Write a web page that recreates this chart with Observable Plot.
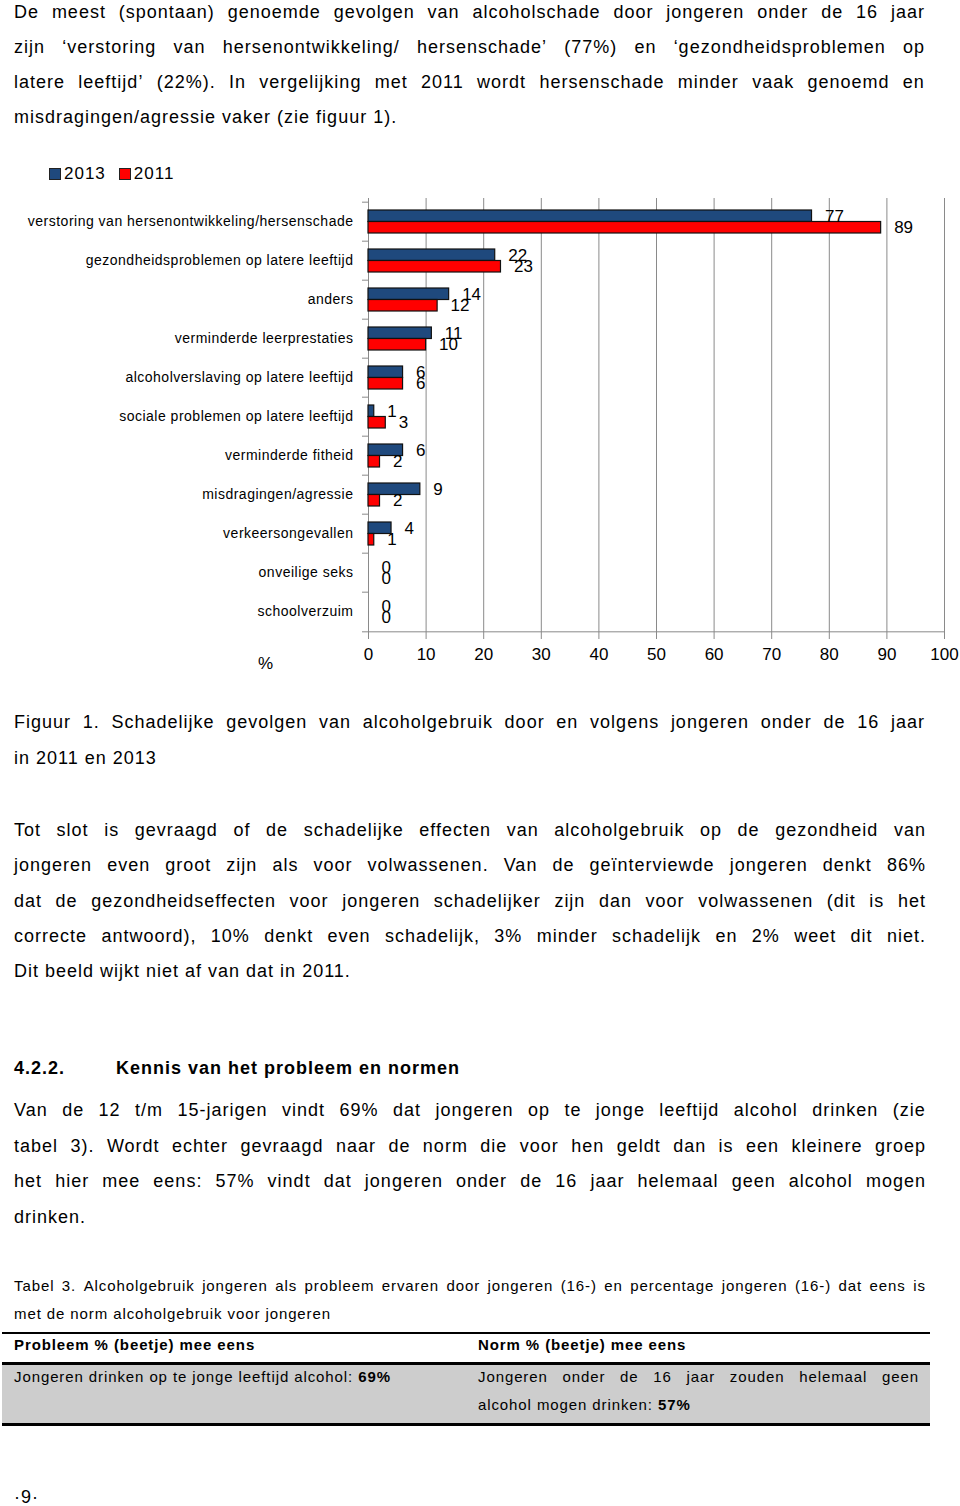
<!DOCTYPE html>
<html>
<head>
<meta charset="utf-8">
<script src="https://cdn.jsdelivr.net/npm/d3@7"></script>
<script src="https://cdn.jsdelivr.net/npm/@observablehq/plot@0.6"></script>
<style>
  html, body { margin: 0; padding: 0; background: #fff; }
  #page { position: relative; width: 960px; height: 1506px; overflow: hidden; background: #fff;
          font-family: "Liberation Sans", Arial, sans-serif; color: #000; }
  .ln { position: absolute; height: 30px; line-height: 30px; white-space: nowrap; font-size: 18px; letter-spacing: 1px; }
  .j { display: flex; justify-content: space-between; }
  .sm { font-size: 15px; letter-spacing: 0.9px; }
  .b { font-weight: bold; }
  #legend { position: absolute; left: 49px; top: 162px; height: 24px; line-height: 24px; font-size: 17px; letter-spacing: 1px; }
  #legend .sw { display: inline-block; width: 10px; height: 10px; border: 1px solid #222; vertical-align: -1px; margin-right: 3px; }
  #chart { position: absolute; left: 0; top: 185px; }
  .hr { position: absolute; left: 2px; width: 928px; background: #000; }
  #grayrow { position: absolute; left: 2px; width: 928px; top: 1365px; height: 58px; background: #cdcdcd; }
</style>
</head>
<body>
<div id="page">
  <div id="legend"></div>
  <div id="chart"></div>
  <div id="grayrow"></div>
  <div class="hr" style="top:1332px;height:2px"></div>
  <div class="hr" style="top:1362px;height:3px"></div>
  <div class="hr" style="top:1423px;height:3px"></div>
</div>
<script>
// ---- chart data ----
const categories = [
  "verstoring van hersenontwikkeling/hersenschade",
  "gezondheidsproblemen op latere leeftijd",
  "anders",
  "verminderde leerprestaties",
  "alcoholverslaving op latere leeftijd",
  "sociale problemen op latere leeftijd",
  "verminderde fitheid",
  "misdragingen/agressie",
  "verkeersongevallen",
  "onveilige seks",
  "schoolverzuim"
];
const values2013 = [77, 22, 14, 11, 6, 1, 6, 9, 4, 0, 0];
const values2011 = [89, 23, 12, 10, 6, 3, 2, 2, 1, 0, 0];
const seriesNames = ["2013", "2011"];
const seriesColors = ["#1F497D", "#FF0000"];
const xTicks = [0, 10, 20, 30, 40, 50, 60, 70, 80, 90, 100];
const axisLabel = "%";

// ---- page text ----
const page = document.getElementById("page");
function line(html, x, yc, w, cls, justify) {
  const d = document.createElement("div");
  d.className = "ln " + (cls || "") + (justify ? " j" : "");
  d.style.left = x + "px";
  d.style.top = (yc - 15) + "px";
  if (justify) {
    d.style.width = w + "px";
    d.innerHTML = html.split(" ").map(t => "<span>" + t + "</span>").join("");
  } else {
    d.innerHTML = html;
  }
  page.appendChild(d);
}
// paragraph 1
line("De meest (spontaan) genoemde gevolgen van alcoholschade door jongeren onder de 16 jaar", 14, 12, 911, "", true);
line("zijn \u2018verstoring van hersenontwikkeling/ hersenschade\u2019 (77%) en \u2018gezondheidsproblemen op", 14, 47, 911, "", true);
line("latere leeftijd\u2019 (22%). In vergelijking met 2011 wordt hersenschade minder vaak genoemd en", 14, 82, 911, "", true);
line("misdragingen/agressie vaker (zie figuur 1).", 14, 117);
// caption
line("Figuur 1. Schadelijke gevolgen van alcoholgebruik door en volgens jongeren onder de 16 jaar", 14, 722, 911, "", true);
line("in 2011 en 2013", 14, 758);
// paragraph 2
line("Tot slot is gevraagd of de schadelijke effecten van alcoholgebruik op de gezondheid van", 14, 830, 912, "", true);
line("jongeren even groot zijn als voor volwassenen. Van de ge\u00efnterviewde jongeren denkt 86%", 14, 865, 912, "", true);
line("dat de gezondheidseffecten voor jongeren schadelijker zijn dan voor volwassenen (dit is het", 14, 901, 912, "", true);
line("correcte antwoord), 10% denkt even schadelijk, 3% minder schadelijk en 2% weet dit niet.", 14, 936, 912, "", true);
line("Dit beeld wijkt niet af van dat in 2011.", 14, 971);
// heading
line("4.2.2.", 14, 1068, 0, "b");
line("Kennis van het probleem en normen", 116, 1068, 0, "b");
// paragraph 3
line("Van de 12 t/m 15-jarigen vindt 69% dat jongeren op te jonge leeftijd alcohol drinken (zie", 14, 1110, 912, "", true);
line("tabel 3). Wordt echter gevraagd naar de norm die voor hen geldt dan is een kleinere groep", 14, 1146, 912, "", true);
line("het hier mee eens: 57% vindt dat jongeren onder de 16 jaar helemaal geen alcohol mogen", 14, 1181, 912, "", true);
line("drinken.", 14, 1217);
// table caption
line("Tabel 3. Alcoholgebruik jongeren als probleem ervaren door jongeren (16-) en percentage jongeren (16-) dat eens is", 14, 1286, 912, "sm", true);
line("met de norm alcoholgebruik voor jongeren", 14, 1314, 0, "sm");
// table
line("Probleem % (beetje) mee eens", 14, 1345, 0, "sm b");
line("Norm % (beetje) mee eens", 478, 1345, 0, "sm b");
line("Jongeren drinken op te jonge leeftijd alcohol: <b>69%</b>", 14, 1377, 0, "sm");
line("Jongeren onder de 16 jaar zouden helemaal geen", 478, 1377, 441, "sm", true);
line("alcohol mogen drinken: <b>57%</b>", 478, 1405, 0, "sm");
// page number
line("\u00b79\u00b7", 14, 1497);

// ---- legend ----
document.getElementById("legend").innerHTML = seriesNames.map((s, i) =>
  `<span style="margin-right:13px"><span class="sw" style="background:${seriesColors[i]}"></span>${s}</span>`).join("");

// ---- chart ----
const rows = categories.flatMap((c, i) => [
  {cat: c, year: seriesNames[0], value: values2013[i]},
  {cat: c, year: seriesNames[1], value: values2011[i]}
]);
const width = 960, height = 505, marginTop = 13, marginBottom = 56, marginLeft = 368, marginRight = 16;
const step = (height - marginTop - marginBottom) / categories.length;
const padInner = 0.42;
const bw = step * (1 - padInner);

const r13 = rows.filter(d => d.year === seriesNames[0]);
const r11 = rows.filter(d => d.year === seriesNames[1]);

const chart = Plot.plot({
  width, height, marginTop, marginBottom, marginLeft, marginRight,
  style: {fontFamily: "Liberation Sans, Arial, sans-serif", fontSize: "17px", background: "white", color: "#000"},
  x: {domain: [0, 100]},
  y: {domain: categories, paddingInner: padInner, paddingOuter: padInner / 2},
  color: {domain: seriesNames, range: seriesColors},
  marks: [
    Plot.gridX({ticks: xTicks.filter(d => d > 0), stroke: "#8a8a8a", strokeOpacity: 1}),
    Plot.ruleX([0], {stroke: "#8a8a8a"}),
    Plot.ruleY(categories, {y: d => d, x1: 0, x2: 0, dy: -step / 2, insetLeft: -6, stroke: "#8a8a8a"}),
    Plot.ruleY([categories[categories.length - 1]], {y: d => d, dy: step / 2, insetLeft: -6, stroke: "#8a8a8a"}),
    Plot.axisX({ticks: xTicks, tickSize: 5, tickPadding: 8, stroke: "#8a8a8a", label: null, fontSize: 17}),
    Plot.axisY({tickSize: 0, tickPadding: 15, label: null, fontSize: 14}),
    Plot.barX(r13.filter(d => d.value > 0), {x: "value", y: "cat", fill: "year", insetBottom: bw / 2, stroke: "#111", strokeWidth: 1.2}),
    Plot.barX(r11.filter(d => d.value > 0), {x: "value", y: "cat", fill: "year", insetTop: bw / 2, stroke: "#111", strokeWidth: 1.2}),
    Plot.text(r13, {x: "value", y: "cat", text: d => String(d.value), dx: 13, dy: -bw / 4, textAnchor: "start", fontSize: 17}),
    Plot.text(r11, {x: "value", y: "cat", text: d => String(d.value), dx: 13, dy: bw / 4, textAnchor: "start", fontSize: 17}),
    Plot.text([axisLabel], {frameAnchor: "bottom-left", dx: -103, dy: 34, fontSize: 17, textAnchor: "middle"})
  ]
});
const yl = chart.querySelector('g[aria-label="y-axis tick label"]');
if (yl) yl.style.letterSpacing = "0.5px";
document.getElementById("chart").appendChild(chart);
</script>
</body>
</html>
